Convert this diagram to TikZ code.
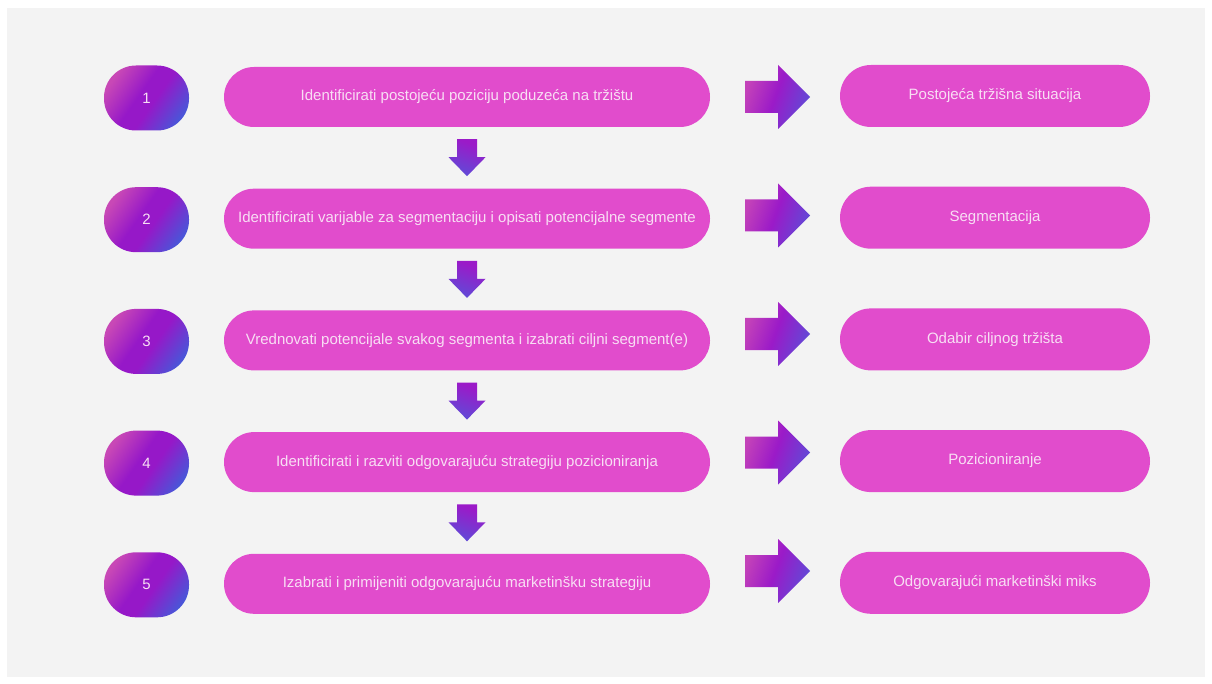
\documentclass[tikz,border=0pt]{standalone}
\usepackage{fontspec}
\setmainfont{Liberation Sans}
\usetikzlibrary{calc}
\definecolor{bg}{RGB}{243,243,243}
\definecolor{boxc}{RGB}{225,76,204}
\definecolor{txt}{RGB}{248,222,244}
\definecolor{gA}{RGB}{200,72,182}
\definecolor{gB}{RGB}{150,24,200}
\definecolor{gC}{RGB}{65,92,218}
\definecolor{aA}{RGB}{195,66,185}
\definecolor{aB}{RGB}{155,26,200}
\definecolor{aC}{RGB}{95,75,215}
\pgfdeclarehorizontalshading{ovalsh}{100bp}{color(0bp)=(gA); color(25bp)=(gA); color(45bp)=(gB); color(55bp)=(gB); color(78bp)=(gC); color(100bp)=(gC)}
\pgfdeclarehorizontalshading{arrsh}{100bp}{color(0bp)=(aA); color(25bp)=(aA); color(48bp)=(aB); color(75bp)=(aC); color(100bp)=(aC)}
\pgfdeclarehorizontalshading{darrsh}{100bp}{color(0bp)=(aB); color(30bp)=(aB); color(75bp)=(aC); color(100bp)=(aC)}
\begin{document}
\begin{tikzpicture}[x=1pt,y=-1pt,
  font=\fontsize{15}{18}\selectfont,
  num/.style={shade, shading=ovalsh, shading angle=-35, minimum width=85pt, minimum height=65pt, rounded corners=32pt, text=txt, inner sep=0pt},
  stepbox/.style={fill=boxc, minimum width=486pt, minimum height=60pt, rounded corners=30pt, text=txt, inner sep=0pt},
  resbox/.style={fill=boxc, minimum width=310pt, minimum height=62pt, rounded corners=31pt, text=txt, inner sep=0pt},
  rarr/.style={shading=arrsh, shading angle=-20},
  darr/.style={shading=darrsh, shading angle=-110}]
\fill[white] (0,0) rectangle (1212,684);
\fill[bg] (7,8) rectangle (1205,677);
\foreach \i/\a/\b in {
  1/{Identificirati postojeću poziciju poduzeća na tržištu}/{Postojeća tržišna situacija},
  2/{Identificirati varijable za segmentaciju i opisati potencijalne segmente}/{Segmentacija},
  3/{Vrednovati potencijale svakog segmenta i izabrati ciljni segment(e)}/{Odabir ciljnog tržišta},
  4/{Identificirati i razviti odgovarajuću strategiju pozicioniranja}/{Pozicioniranje},
  5/{Izabrati i primijeniti odgovarajuću marketinšku strategiju}/{Odgovarajući marketinški miks}} {
  \pgfmathsetmacro\y{97+121.7*(\i-1)}
  \node[num] (n\i) at (146.5,\y+1) {\i};
  \node[stepbox] (s\i) at (467,\y) {\a};
  \node[resbox] (r\i) at (995,\y-1) {\b};
  \coordinate (a\i) at ($(s\i.east)+(35,{-3.2*(\i-1)})$);
  \shade[rarr] (a\i) ++(0,-16) -- ++(33,0) -- ++(0,-16) -- ++(32,32) -- ++(-32,32) -- ++(0,-16) -- ++(-33,0) -- cycle;
}
\foreach \i in {1,2,3,4} {
  \coordinate (d\i) at ($(s\i.south)+(0,12)$);
  \shade[darr] (d\i) ++(-10,0) -- ++(20,0) -- ++(0,18) -- ++(8.5,0) -- ++(-18.5,19) -- ++(-18.5,-19) -- ++(8.5,0) -- cycle;
}
\end{tikzpicture}
\end{document}
